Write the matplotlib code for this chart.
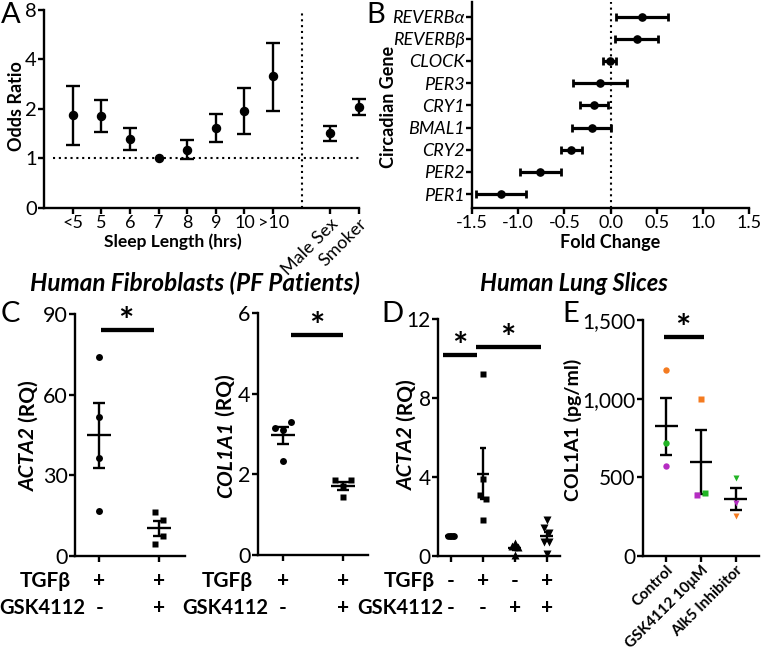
import numpy as np
import matplotlib
matplotlib.use('Agg')
import matplotlib.pyplot as plt
from matplotlib.ticker import FixedLocator, FixedFormatter, NullLocator, FuncFormatter

plt.rcParams['font.family'] = ['Lato', 'Open Sans', 'DejaVu Sans']
plt.rcParams['axes.unicode_minus'] = False

# ---------------- data ----------------
# Panel A: odds ratios with 95% CI
sleep_cats = ['<5', '5', '6', '7', '8', '9', '10', '>10']
sleep_or = [1.83, 1.81, 1.32, 1.00, 1.13, 1.53, 1.95, 3.16]
sleep_lo = [1.21, 1.44, 1.13, 1.00, 0.99, 1.26, 1.41, 1.95]
sleep_hi = [2.77, 2.27, 1.53, 1.00, 1.30, 1.87, 2.67, 5.07]
cov_cats = ['Male Sex', 'Smoker']
cov_or = [1.42, 2.06]
cov_lo = [1.27, 1.85]
cov_hi = [1.58, 2.29]

# Panel B: fold change of circadian genes
genes = ['PER1', 'PER2', 'CRY2', 'BMAL1', 'CRY1', 'PER3', 'CLOCK', 'REVERBβ', 'REVERBα']
fold = [-1.186, -0.760, -0.423, -0.204, -0.176, -0.115, -0.007, 0.283, 0.341]
fold_lo = [-1.455, -0.975, -0.534, -0.419, -0.326, -0.401, -0.082, 0.050, 0.061]
fold_hi = [-0.910, -0.541, -0.312, 0.004, -0.032, 0.183, 0.061, 0.516, 0.620]

# Panel C: human fibroblasts
c_tgf = ['+', '+']
c_gsk = ['-', '+']
c1_acta2 = [[74.0, 51.8, 36.6, 16.9], [16.4, 13.5, 4.3, 7.3]]
c2_col1a1 = [[2.34, 3.15, 3.10, 3.29], [1.85, 1.72, 1.85, 1.45]]

# Panel D: human lung slices ACTA2
d_tgf = ['-', '+', '-', '+']
d_gsk = ['-', '-', '+', '+']
d_acta2 = [[1.0, 1.0, 1.0, 1.0, 1.0],
           [9.2, 3.9, 3.09, 2.87, 1.82],
           [0.05, 0.5, 0.65, 0.47],
           [1.40, 1.15, 0.73, 0.73, 1.82, 0.10]]

# Panel E: COL1A1 secretion, three donors
e_groups = ['Control', 'GSK4112 10μM', 'Alk5 Inhibitor']
donor_colors = ['#F47B20', '#B52CC2', '#22B425']
e_col1a1 = [[1180, 574, 716], [1000, 388, 403], [254, 335, 494]]

# ---------------- figure ----------------
W, H = 762, 654
fig = plt.figure(figsize=(W / 100, H / 100), dpi=100)
K = 'black'
LW = 1.7


def add_ax(l, t, r, b):
    ax = fig.add_axes([l / W, 1 - b / H, (r - l) / W, (b - t) / H])
    for s in ('top', 'right'):
        ax.spines[s].set_visible(False)
    for s in ('left', 'bottom'):
        ax.spines[s].set_linewidth(LW)
    ax.tick_params(width=LW, length=4.3, color=K, pad=1)
    ax.set_facecolor('none')
    return ax


def ftext(x, y, s, **kw):
    return fig.text(x / W, 1 - y / H, s, **kw)


def vlabel(x_base, y_center, parts, size):
    r = fig.canvas.get_renderer()
    widths = []
    for s, st in parts:
        t = fig.text(0, 0, s, fontsize=size, fontweight='bold', fontstyle=st)
        widths.append(t.get_window_extent(r).width)
        t.remove()
    y = (H - y_center) - sum(widths) / 2
    for (s, st), w in zip(parts, widths):
        fig.text(x_base / W, y / H, s, fontsize=size, fontweight='bold', fontstyle=st,
                 rotation=90, rotation_mode='anchor', ha='left', va='baseline')
        y += w


def swarm(vals, ppy, ppx, thr, step, spread):
    v = np.asarray(vals, float)
    order = np.argsort(v, kind='stable')
    off = np.zeros(len(v))
    clusters, cur = [], [order[0]]
    for i in order[1:]:
        if (v[i] - v[cur[0]]) * ppy < thr:
            cur.append(i)
        else:
            clusters.append(cur)
            cur = [i]
    clusters.append(cur)
    for cl in clusters:
        n = len(cl)
        if n < 2:
            continue
        st = min(step, spread / (n - 1))
        for k, idx in enumerate(sorted(cl)):
            off[idx] = (k - (n - 1) / 2) * st / ppx
    return off


def dot_panel(ax, groups, xlim, ylim, markers, sizes, colors, halfw, capsize,
              step, thr, spread):
    ax.set_xlim(*xlim)
    ax.set_ylim(*ylim)
    ppy = ax.bbox.height / (ylim[1] - ylim[0])
    ppx = ax.bbox.width / (xlim[1] - xlim[0])
    for i, vals in enumerate(groups):
        vals = np.asarray(vals, float)
        off = swarm(vals, ppy, ppx, thr, step, spread)
        m = vals.mean()
        se = vals.std(ddof=1) / np.sqrt(len(vals))
        ax.hlines(m, i - halfw, i + halfw, color=K, lw=LW, zorder=2)
        ax.errorbar(i, m, yerr=se, fmt='none', ecolor=K, elinewidth=LW,
                    capsize=capsize, capthick=LW, zorder=2)
        cols = colors[i] if colors is not None else [K] * len(vals)
        for j, v in enumerate(vals):
            ax.plot(i + off[j], v, marker=markers[i], ms=sizes[i], color=cols[j],
                    mec='none', ls='none', zorder=3, clip_on=False)
    ax.set_xticks(np.arange(len(groups)))


def sig(ax, x0, x1, y, xs, fs=26):
    ax.plot([x0, x1], [y, y], color=K, lw=3.1, solid_capstyle='butt', clip_on=False)
    ax.annotate('*', xy=(xs, y), xytext=(0, -9), textcoords='offset pixels',
                ha='center', va='bottom', fontsize=fs, fontweight='bold')


def rows(ax, tgf, gsk, off1, off2, fs=15):
    for i, (a, b) in enumerate(zip(tgf, gsk)):
        ax.annotate(a, xy=(i, 0), xycoords=('data', 'axes fraction'), xytext=(0, -off1),
                    textcoords='offset pixels', ha='center', va='baseline',
                    fontsize=fs, fontweight='bold')
        ax.annotate(b, xy=(i, 0), xycoords=('data', 'axes fraction'), xytext=(0, -off2),
                    textcoords='offset pixels', ha='center', va='baseline',
                    fontsize=fs, fontweight='bold')


def row_labels(x_tgf, x_gsk):
    ftext(x_tgf, 587, 'TGFβ', ha='right', va='baseline', fontsize=15, fontweight='bold')
    ftext(x_gsk, 614, 'GSK4112', ha='right', va='baseline', fontsize=14.5, fontweight='bold')


# ---------- Panel A ----------
axA = add_ax(44, 10, 359, 208)
xa = np.arange(len(sleep_cats))
xc = len(sleep_cats) + 1 + np.arange(len(cov_cats))
ax_x = np.concatenate([xa, xc])
or_all = np.array(sleep_or + cov_or)
lo_all = np.array(sleep_lo + cov_lo)
hi_all = np.array(sleep_hi + cov_hi)
axA.set_yscale('log', base=2)
axA.set_ylim(0.5, 8)
axA.set_xlim(-1, ax_x[-1])
axA.axhline(1, xmin=0.03, color=K, lw=1.5, ls=(0, (1, 1.8)), zorder=1)
axA.axvline(len(sleep_cats), color=K, lw=1.5, ls=(0, (1, 1.8)), zorder=1)
has = hi_all > lo_all
eb = axA.errorbar(ax_x[has], or_all[has],
                  yerr=[or_all[has] - lo_all[has], hi_all[has] - or_all[has]],
                  fmt='none', ecolor=K, elinewidth=LW, capsize=4.7, capthick=LW, zorder=2)
for art in eb.lines[1] + eb.lines[2]:
    art.set_clip_on(False)
axA.plot(ax_x, or_all, 'o', color=K, ms=5.8, zorder=3, clip_on=False)
axA.yaxis.set_major_locator(FixedLocator([0.5, 1, 2, 4, 8]))
axA.yaxis.set_major_formatter(FixedFormatter(['0', '1', '2', '4', '8']))
axA.yaxis.set_minor_locator(NullLocator())
axA.set_xticks(ax_x, sleep_cats + cov_cats)
axA.tick_params(axis='y', labelsize=14.5)
axA.tick_params(axis='x', labelsize=13)
for lab in axA.get_xticklabels()[len(sleep_cats):]:
    lab.set_rotation(45)
    lab.set_ha('right')
    lab.set_rotation_mode('anchor')
ftext(173, 247, 'Sleep Length (hrs)', ha='center', va='baseline', fontsize=12.5, fontweight='bold')
vlabel(22, 106, [('Odds Ratio', 'normal')], 13)

# ---------- Panel B ----------
axB = add_ax(472, 2, 749, 208)
yB = np.arange(len(genes))
fold_a = np.array(fold)
axB.axvline(0, color=K, lw=1.5, ls=(0, (1, 1.8)), zorder=1)
axB.errorbar(fold_a, yB, xerr=[fold_a - np.array(fold_lo), np.array(fold_hi) - fold_a],
             fmt='o', color=K, ms=5.2, elinewidth=2.3, capsize=2.8, capthick=2.0, zorder=3)
axB.set_xlim(-1.5, 1.5)
axB.set_ylim(-0.63, 8.66)
axB.set_xticks([-1.5, -1.0, -0.5, 0.0, 0.5, 1.0, 1.5])
axB.xaxis.set_major_formatter(FuncFormatter(lambda v, p: f'{v:.1f}'))
axB.set_yticks(yB, genes)
for lab in axB.get_yticklabels():
    lab.set_fontstyle('italic')
axB.tick_params(axis='x', labelsize=13)
axB.tick_params(axis='y', labelsize=13)
ftext(610, 248, 'Fold Change', ha='center', va='baseline', fontsize=13, fontweight='bold')
vlabel(394, 107, [('Circadian Gene', 'normal')], 13)

# ---------- Panel C ----------
axC1 = add_ax(75, 314, 185, 556)
dot_panel(axC1, c1_acta2, (-0.405, 1.43), (0, 90), ['o', 's'], [5, 5], None,
          0.2, 4.3, 8, 9, 16)
axC1.set_yticks([0, 30, 60, 90])
axC1.set_xticklabels([])
axC1.tick_params(axis='y', labelsize=15.5)
sig(axC1, 0.03, 0.91, 83.9, 0.45)
rows(axC1, c_tgf, c_gsk, 31, 58)
row_labels(71, 85)
vlabel(35, 436, [('ACTA2', 'italic'), (' (RQ)', 'normal')], 15)

axC2 = add_ax(258, 313, 368, 555)
dot_panel(axC2, c2_col1a1, (-0.417, 1.42), (0, 6), ['o', 's'], [5, 5], None,
          0.2, 4.3, 8, 9, 16)
axC2.set_yticks([0, 2, 4, 6])
axC2.set_xticklabels([])
axC2.tick_params(axis='y', labelsize=15.5)
sig(axC2, 0.14, 1.0, 5.46, 0.57)
rows(axC2, c_tgf, c_gsk, 32, 59)
row_labels(253, 268)
vlabel(232, 436, [('COL1A1', 'italic'), (' (RQ)', 'normal')], 15)

ftext(195, 291, 'Human Fibroblasts (PF Patients)', ha='center', va='baseline',
      fontsize=17.5, fontweight='bold', fontstyle='italic')

# ---------- Panel D ----------
axD = add_ax(438, 319, 560, 556)
dot_panel(axD, d_acta2, (-0.41, 3.42), (0, 12), ['o', 's', '^', 'v'], [4.8, 4.0, 5.2, 5.2],
          None, 0.2, 2.2, 5.5, 7, 6)
axD.set_yticks([0, 4, 8, 12])
axD.set_xticklabels([])
axD.tick_params(axis='y', labelsize=15)
sig(axD, -0.25, 0.81, 10.19, 0.28)
sig(axD, 0.78, 2.82, 10.6, 1.78)
rows(axD, d_tgf, d_gsk, 31, 58)
row_labels(435, 443)
vlabel(413, 435, [('ACTA2', 'italic'), (' (RQ)', 'normal')], 15)

# ---------- Panel E ----------
axE = add_ax(643, 320, 759, 556)
dot_panel(axE, e_col1a1, (-0.67, 2.67), (0, 1500), ['o', 's', 'v'], [4.6, 4.4, 4.6],
          [donor_colors] * 3, 0.33, 4.0, 8, 7, 16)
axE.set_yticks([0, 500, 1000, 1500])
axE.yaxis.set_major_formatter(FuncFormatter(lambda v, p: f'{v:,.0f}'))
axE.set_xticks(np.arange(len(e_groups)), e_groups)
axE.tick_params(axis='y', labelsize=15)
axE.tick_params(axis='x', labelsize=11)
for lab in axE.get_xticklabels():
    lab.set_rotation(45)
    lab.set_ha('right')
    lab.set_rotation_mode('anchor')
    lab.set_fontweight('bold')
sig(axE, -0.06, 1.10, 1394, 0.49)
vlabel(579, 430, [('COL1A1 (pg/ml)', 'normal')], 14)

ftext(574, 291, 'Human Lung Slices', ha='center', va='baseline',
      fontsize=17, fontweight='bold', fontstyle='italic')

# ---------- panel letters ----------
for x, y, s in [(1, 23, 'A'), (366, 23, 'B'), (1, 322, 'C'), (381, 322, 'D'), (562, 322, 'E')]:
    ftext(x, y, s, ha='left', va='baseline', fontsize=21)

fig.savefig('out.png', dpi=100)
